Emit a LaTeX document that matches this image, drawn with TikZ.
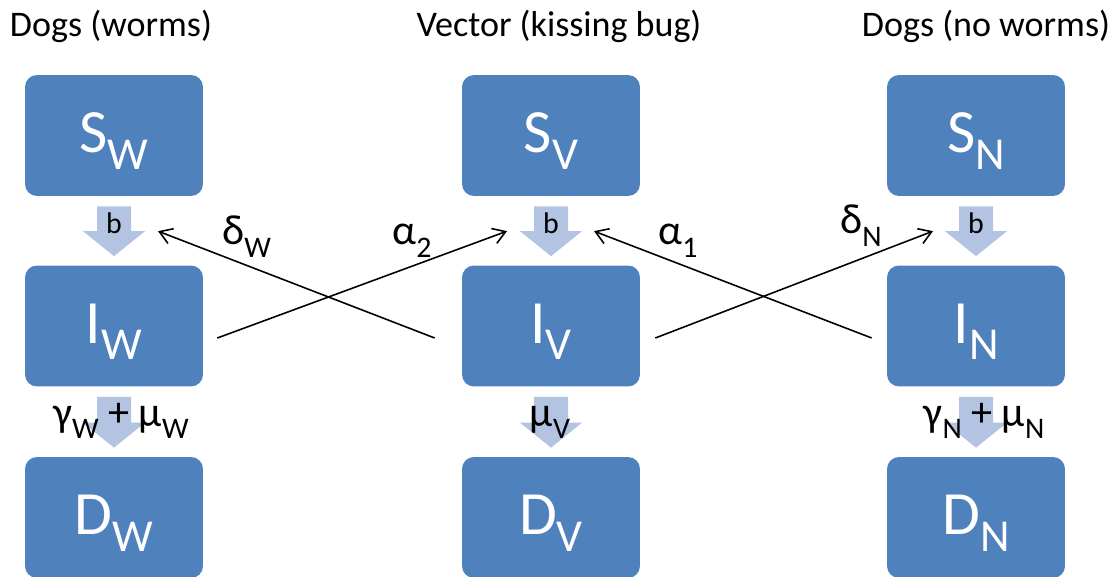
\documentclass[tikz,border=0pt]{standalone}
\usepackage{fontspec}
\setmainfont{Carlito}
\usetikzlibrary{arrows.meta, calc, positioning}
\definecolor{boxblue}{HTML}{4F81BD}
\definecolor{flowblue}{HTML}{B3C4E2}
\tikzstyle{compartment} = [rectangle, rounded corners=6.8pt, minimum width=3.56cm, minimum height=2.42cm, inner sep=0pt, fill=boxblue, text=white, font=\fontsize{35}{40}\selectfont, text depth=3pt]
\tikzstyle{group} = [font=\fontsize{20.5}{24}\selectfont, anchor=base, inner sep=0pt]
\tikzstyle{rate} = [font=\fontsize{24}{28}\selectfont, anchor=base west, inner sep=0pt]
\tikzstyle{flow} = [fill=flowblue]
\tikzstyle{link} = [line width=0.9pt, -{Straight Barb[length=7pt, width=9pt]}]
\newcommand{\bsub}[1]{\raisebox{-0.27em}{\fontsize{26}{30}\selectfont #1}}
\newcommand{\rsub}[1]{\raisebox{-0.3em}{\fontsize{17}{20}\selectfont #1}}
% block arrow between two compartments: from, to, name
\newcommand{\flowarrow}[3]{%
  \path ($(#1.south)+(0,10)$) coordinate (#3-top) ($(#2.north)+(0,-9)$) coordinate (#3-tip);
  \fill[flow] ($(#3-top)+(-17,0)$) -- ($(#3-top)+(17,0)$) -- ($(#3-tip)+(17,-25)$)
    -- ($(#3-tip)+(31,-25)$) coordinate (#3-r) -- (#3-tip)
    -- ($(#3-tip)+(-31,-25)$) coordinate (#3-l) -- ($(#3-tip)+(-17,-25)$) -- cycle;
}
\begin{document}
\begin{tikzpicture}[x=0.02cm, y=-0.02cm]
 \useasboundingbox (0,0) rectangle (1115,577);
 \clip (0,0) rectangle (1115,577);

 % titles
 \node (tW) [group] at (111,37) {Dogs (worms)};
 \node (tV) [group] at (559,37) {Vector (kissing bug)};
 \node (tN) [group] at (986,37) {Dogs (no worms)};

 % compartments
 \node (SW) [compartment] at (114,135.5) {S\bsub{W}};
 \node (IW) [compartment] at (114,326) {I\bsub{W}};
 \node (DW) [compartment] at (114,517.5) {D\bsub{W}};
 \node (SV) [compartment] at (551,135.5) {S\bsub{V}};
 \node (IV) [compartment] at (551,326) {I\bsub{V}};
 \node (DV) [compartment] at (551,517.5) {D\bsub{V}};
 \node (SN) [compartment] at (976,135.5) {S\bsub{N}};
 \node (IN) [compartment] at (976,326) {I\bsub{N}};
 \node (DN) [compartment] at (976,517.5) {D\bsub{N}};

 % flows
 \flowarrow{SW}{IW}{fW}
 \flowarrow{SV}{IV}{fV}
 \flowarrow{SN}{IN}{fN}
 \flowarrow{IW}{DW}{gW}
 \flowarrow{IV}{DV}{gV}
 \flowarrow{IN}{DN}{gN}
 \node (bW) [font=\fontsize{17}{19}\selectfont] at ($(fW-top)+(0,17)$) {b};
 \node (bV) [font=\fontsize{17}{19}\selectfont] at ($(fV-top)+(0,17)$) {b};
 \node (bN) [font=\fontsize{17}{19}\selectfont] at ($(fN-top)+(0,17)$) {b};

 % transmission
 \draw [link] ($(IW.east)+(14,12)$) -- ($(fV-l)+(-13,0)$);
 \draw [link] ($(IV.west)+(-27,12)$) -- ($(fW-r)+(13,0)$);
 \draw [link] ($(IV.east)+(15,12)$) -- ($(fN-l)+(-12,0)$);
 \draw [link] ($(IN.west)+(-15,12)$) -- ($(fV-r)+(12,0)$);

 % rates
 \node (dW) [rate] at (222,245) {δ\rsub{W}};
 \node (a2) [rate] at (392,245) {α\rsub{2}};
 \node (a1) [rate] at (658,245) {α\rsub{1}};
 \node (dN) [rate] at (840,234) {δ\rsub{N}};
 \node (lW) [rate, anchor=base] at (121,426) {γ\rsub{W} + μ\rsub{W}};
 \node (lV) [rate, anchor=base] at (550,426) {μ\rsub{V}};
 \node (lN) [rate, anchor=base] at (984,426) {γ\rsub{N} + μ\rsub{N}};
\end{tikzpicture}
\end{document}
